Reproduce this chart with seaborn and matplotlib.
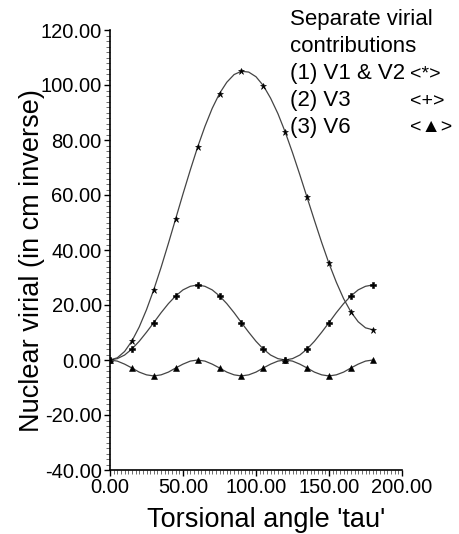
import numpy as np
import matplotlib
matplotlib.use('Agg')
import matplotlib.pyplot as plt
from matplotlib.ticker import MultipleLocator, FormatStrFormatter
import seaborn as sns

# torsional angle, 5 degree steps (markers drawn every 15 degrees)
tau = list(range(0, 185, 5))

# (1) V1 & V2
v12 = [0.0, 0.8, 3.1, 6.9, 12.0, 18.3, 25.6, 33.7, 42.4, 51.4, 60.4, 69.1, 77.4,
       84.9, 91.5, 96.9, 101.0, 103.8, 105.0, 104.7, 103.0, 99.8, 95.2, 89.6, 82.9,
       75.4, 67.4, 59.1, 50.8, 42.7, 35.1, 28.3, 22.3, 17.5, 13.9, 11.7, 11.0]

# (2) V3
v3 = [0.0, 0.5, 1.8, 4.0, 6.8, 10.1, 13.6, 17.2, 20.5, 23.3, 25.5, 26.8, 27.3,
      26.8, 25.5, 23.3, 20.5, 17.2, 13.6, 10.1, 6.8, 4.0, 1.8, 0.5, 0.0,
      0.5, 1.8, 4.0, 6.8, 10.1, 13.6, 17.2, 20.5, 23.3, 25.5, 26.8, 27.3]

# (3) V6
v6 = [0.0, -0.4, -1.5, -2.9, -4.4, -5.4, -5.8, -5.4, -4.4, -2.9, -1.5, -0.4, 0.0,
      -0.4, -1.5, -2.9, -4.4, -5.4, -5.8, -5.4, -4.4, -2.9, -1.5, -0.4, 0.0,
      -0.4, -1.5, -2.9, -4.4, -5.4, -5.8, -5.4, -4.4, -2.9, -1.5, -0.4, 0.0]

legend_lines = ["Separate virial", "contributions", "(1) V1 & V2", "(2) V3", "(3) V6"]
legend_marks = ["<*>", "<+>", "<\u25B2>"]

sns.set_style('ticks')
plt.rcParams['font.family'] = ['Liberation Sans', 'DejaVu Sans']
plt.rcParams['text.color'] = 'black'
plt.rcParams['axes.labelcolor'] = 'black'
plt.rcParams['xtick.color'] = 'black'
plt.rcParams['ytick.color'] = 'black'

fig = plt.figure(figsize=(4.59, 5.34), dpi=100)
ax = fig.add_axes([110 / 459, 1 - 470 / 534, 292 / 459, 440 / 534])

line_kw = dict(color='#444444', linewidth=0.9, markevery=3, ax=ax,
               markerfacecolor='black', markeredgecolor='black')
sns.lineplot(x=tau, y=v12, marker='*', markersize=5, markeredgewidth=0.4, **line_kw)
sns.lineplot(x=tau, y=v3, marker='P', markersize=4, markeredgewidth=0.4, **line_kw)
sns.lineplot(x=tau, y=v6, marker='^', markersize=4, markeredgewidth=0.4, **line_kw)

ax.set_xlim(0, 200)
ax.set_ylim(-40, 120)
ax.xaxis.set_major_locator(MultipleLocator(50))
ax.yaxis.set_major_locator(MultipleLocator(20))
ax.xaxis.set_minor_locator(MultipleLocator(2.5))
ax.yaxis.set_minor_locator(MultipleLocator(2))
ax.xaxis.set_major_formatter(FormatStrFormatter('%.2f'))
ax.yaxis.set_major_formatter(FormatStrFormatter('%.2f'))
ax.tick_params(which='major', length=4, width=1, labelsize=14.5, pad=2, color='black')
ax.tick_params(which='minor', length=3, width=0.6, color='#555555')
sns.despine(ax=ax)
for s in ['left', 'bottom']:
    ax.spines[s].set_linewidth(1.2)
    ax.spines[s].set_color('black')

ax.set_xlabel("Torsional angle 'tau'", fontsize=19.5, va='center', ha='center')
ax.set_ylabel("Nuclear virial (in cm inverse)", fontsize=19.5, va='center', ha='center')
ax.xaxis.set_label_coords(156 / 292, -50 / 440)
ax.yaxis.set_label_coords(-78 / 292, 209 / 440)

# legend block as text, top right
y0 = 1 - 20 / 534
step = 27 / 534
for i, t in enumerate(legend_lines):
    fig.text(290 / 459, y0 - i * step, t, fontsize=16, va='center', ha='left')
for i, m in enumerate(legend_marks):
    fig.text(410 / 459, y0 - (i + 2) * step, m, fontsize=14, va='center', ha='left')

fig.savefig('out.png', dpi=100)
